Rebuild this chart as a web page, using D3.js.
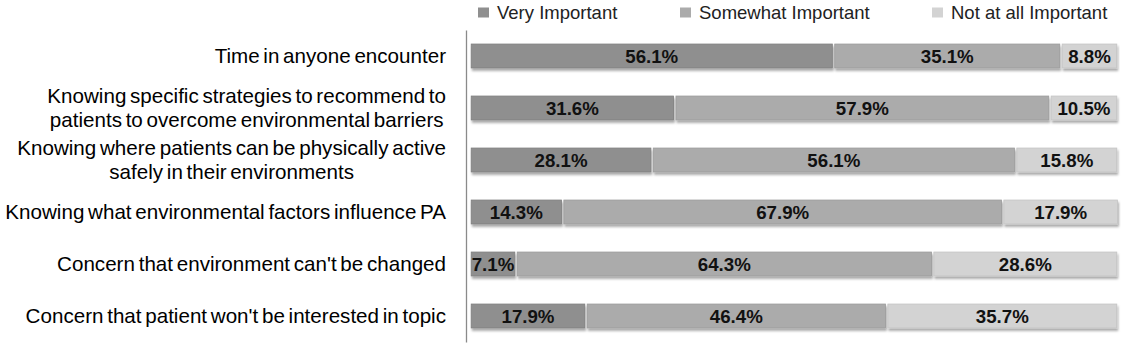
<!DOCTYPE html>
<html>
<head>
<meta charset="utf-8">
<script src="https://cdn.jsdelivr.net/npm/d3@7"></script>
<style>
  html, body { margin: 0; padding: 0; background: #fff; }
  svg { display: block; }
</style>
</head>
<body>
<svg id="chart" width="1133" height="344"></svg>
<script>
// ---- data ----
const categories = [
  "Time in anyone encounter",
  "Knowing specific strategies to recommend to\npatients to overcome environmental barriers",
  "Knowing where patients can be physically active\nsafely in their environments",
  "Knowing what environmental factors influence PA",
  "Concern that environment can't be changed",
  "Concern that patient won't be interested in topic"
];
const seriesNames = ["Very Important", "Somewhat Important", "Not at all Important"];
const veryImportant     = [56.1, 31.6, 28.1, 14.3,  7.1, 17.9];
const somewhatImportant = [35.1, 57.9, 56.1, 67.9, 64.3, 46.4];
const notAtAllImportant = [ 8.8, 10.5, 15.8, 17.9, 28.6, 35.7];
const seriesColors = ["#8f8f8f", "#ababab", "#d3d3d3"];
const seriesStroke = ["#7f7f7f", "#9c9c9c", "#c4c4c4"];

// ---- build table ----
const keys = seriesNames;
const rows = categories.map((c, i) => ({
  cat: c,
  [seriesNames[0]]: veryImportant[i],
  [seriesNames[1]]: somewhatImportant[i],
  [seriesNames[2]]: notAtAllImportant[i]
}));
const stacked = d3.stack().keys(keys)(rows);

const svg = d3.select("#chart");
const axisX = 466;

const x = d3.scaleLinear().domain([0, 100]).range([470, 1118]);
const y = d3.scaleBand().domain(categories).range([30, 342])
  .paddingInner(0.54).paddingOuter(0.27);
const color = d3.scaleOrdinal().domain(keys).range(seriesColors);
const strokeC = d3.scaleOrdinal().domain(keys).range(seriesStroke);

// shadow filter
const defs = svg.append("defs");
const f = defs.append("filter").attr("id", "shadow")
  .attr("x", "-5%").attr("y", "-30%").attr("width", "110%").attr("height", "180%");
f.append("feDropShadow").attr("dx", 1).attr("dy", 2.5).attr("stdDeviation", 1.2)
  .attr("flood-color", "#000").attr("flood-opacity", 0.35);

// bars
const barG = svg.append("g");
const layer = barG.selectAll("g.layer").data(stacked).join("g").attr("class", "layer");
layer.selectAll("rect").data(d => d.map(v => ({ key: d.key, v, cat: v.data.cat })))
  .join("rect")
  .attr("x", d => x(d.v[0]) + 1.2)
  .attr("y", d => y(d.cat))
  .attr("width", d => Math.max(0, x(d.v[1]) - x(d.v[0]) - 2.4))
  .attr("height", y.bandwidth())
  .attr("fill", d => color(d.key))
  .attr("stroke", d => strokeC(d.key))
  .attr("stroke-width", 0.8)
  .attr("filter", "url(#shadow)");

// value labels
const lblG = svg.append("g");
stacked.forEach(s => {
  lblG.selectAll(null).data(s).join("text")
    .attr("x", d => (x(d[0]) + x(d[1])) / 2)
    .attr("y", d => y(d.data.cat) + y.bandwidth() / 2)
    .attr("dy", "0.36em")
    .attr("text-anchor", "middle")
    .attr("font-family", "Liberation Sans, Arial, sans-serif")
    .attr("font-weight", "bold")
    .attr("font-size", 18.7)
    .attr("fill", "#111")
    .text(d => (d[1] - d[0]).toFixed(1) + "%");
});

// axis
const axis = d3.axisLeft(y).tickSize(0).tickSizeOuter(0).tickPadding(20);
const axG = svg.append("g").attr("transform", `translate(${axisX},0)`).call(axis);
axG.select(".domain").attr("stroke", "#8a8a8a").attr("stroke-width", 1.3);
axG.selectAll(".tick text")
  .attr("font-family", "Liberation Sans, Arial, sans-serif")
  .attr("font-size", 20.6)
  .attr("fill", "#000")
  .attr("word-spacing", "-2px")
  .each(function (d) {
    const t = d3.select(this);
    const lines = d.split("\n");
    t.text(null).attr("dy", null);
    const lh = 24;
    const tsp = lines.map((ln, i) => t.append("tspan")
      .attr("x", 0)
      .attr("dy", i === 0 ? (-(lines.length - 1) / 2 * lh + 6.5) + "px" : lh + "px")
      .text(ln));
    let maxW = 0;
    tsp.forEach(s => { maxW = Math.max(maxW, s.node().getComputedTextLength()); });
    t.attr("text-anchor", "middle");
    tsp.forEach(s => s.attr("x", -20 - maxW / 2));
  });

// legend
const legendX = [478, 680, 932];
const lg = svg.append("g");
seriesNames.forEach((name, i) => {
  const g = lg.append("g").attr("transform", `translate(${legendX[i]},0)`);
  g.append("rect").attr("x", 0).attr("y", 7.5).attr("width", 11).attr("height", 10)
    .attr("fill", seriesColors[i]);
  g.append("text").attr("x", 19).attr("y", 12.5).attr("dy", "0.35em")
    .attr("font-family", "Liberation Sans, Arial, sans-serif")
    .attr("font-size", 18.5).attr("fill", "#222")
    .text(name);
});
</script>
</body>
</html>
